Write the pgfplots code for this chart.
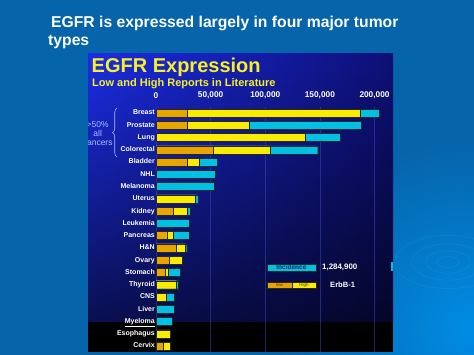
\documentclass[border=0pt]{standalone}
\usepackage{fontspec}
\setmainfont{Liberation Sans}
\usepackage{pgfplots}
\pgfplotsset{compat=1.18}
\usepackage{pgfplotstable}
\usetikzlibrary{decorations.pathreplacing,fadings}

\definecolor{slidebg}{RGB}{6,100,170}
\definecolor{slidelight}{RGB}{0,140,228}
\definecolor{panelTL}{RGB}{28,45,230}
\definecolor{panelR}{RGB}{14,16,118}
\definecolor{ttlyellow}{RGB}{245,240,40}
\definecolor{orangebar}{RGB}{232,165,0}
\definecolor{yellowbar}{RGB}{250,236,0}
\definecolor{cyanbar}{RGB}{0,192,228}
\definecolor{barline}{RGB}{40,40,30}
\definecolor{bracecol}{RGB}{170,190,255}
\definecolor{gridcol}{RGB}{70,80,200}

\tikzfading[name=fadedown, top color=transparent!100, bottom color=transparent!35]

\pgfplotstableread{
row low high inc
0 28.7 186.8 204
1 28.7 85.5 188
2 nan 136.5 168.8
3 52.8 104.7 148
4 28.7 39.7 55.9
5 nan nan 54
6 nan nan 53.4
7 nan 36.3 38.5
8 15.8 29 31.1
9 nan nan 30.5
10 9.8 15.8 30.2
11 18.3 26.5 28.1
12 11.9 23.8 nan
13 8.2 11.3 22
14 nan 18.3 20.4
15 nan 9.2 16.8
16 nan nan 16.5
17 nan nan 14.9
18 nan 12.8 nan
19 6.7 12.8 nan
}\datatable

\begin{document}
\begin{tikzpicture}[x=1pt,y=1pt]
\useasboundingbox (0,0) rectangle (474,-355);
% slide background
\begin{scope}
\clip (0,0) rectangle (474,-355);
\fill[slidebg] (0,0) rectangle (474,-355);
\shade[inner color=slidelight, outer color=slidebg] (470,-330) circle (190);
\foreach \r in {8,16,26,38}{
  \draw[white, opacity=0.05, line width=0.8pt] (448,-262) ellipse ({\r*1.4} and {\r*0.7});
}
\end{scope}
% slide title
\node[anchor=base west, inner sep=0pt, text=white, font=\fontsize{15.7}{18}\selectfont\bfseries] at (51,-27.9) {EGFR is expressed largely in four major tumor};
\node[anchor=base west, inner sep=0pt, text=white, font=\fontsize{15.7}{18}\selectfont\bfseries] at (48,-46) {types};
% panel
\shade[left color=panelTL, right color=panelR] (88,-54) rectangle (393,-322);
\fill[black, path fading=fadedown] (88,-54) rectangle (393,-322);
\fill[black] (88,-322) rectangle (393,-352);
% panel titles
\node[anchor=base west, inner sep=0pt, text=ttlyellow, font=\fontsize{20}{24}\selectfont\bfseries] at (91.5,-72.7) {EGFR Expression};
\node[anchor=base west, inner sep=0pt, text=ttlyellow, font=\fontsize{11}{13}\selectfont\bfseries] at (92,-86.7) {Low and High Reports in Literature};
% brace and group note
\begin{scope}
\clip (88,-54) rectangle (393,-352);
\draw[bracecol, line width=0.6pt, decorate, decoration={brace, amplitude=4.5pt}] (117,-157) -- (117,-108);
\node[text=bracecol, align=center, inner sep=0pt, font=\fontsize{8.5}{9}\selectfont] at (97.7,-134) {>50\%\\all\\cancers};
\end{scope}
\coordinate (axc) at (273.45,-229.55);
\begin{axis}[
  at={(axc)}, anchor=center,
  scale only axis, width=234.9pt, height=245.3pt,
  xmin=0, xmax=215, ymin=-0.5, ymax=19.5, y dir=reverse,
  xbar, bar width=8pt, bar shift=0pt,
  axis line style={draw=none}, major tick length=0pt,
  xtick={0,50,100,150,200},
  xticklabels={0,{50,000},{100,000},{150,000},{200,000}},
  xticklabel pos=top,
  xticklabel style={font=\fontsize{8.3}{9}\selectfont\bfseries, text=white, yshift=5pt},
  ytick={0,...,19},
  yticklabels={Breast,Prostate,Lung,Colorectal,Bladder,NHL,Melanoma,Uterus,Kidney,Leukemia,Pancreas,H\&N,Ovary,Stomach,Thyroid,CNS,Liver,\underline{Myeloma},Esophagus,Cervix},
  yticklabel style={font=\fontsize{7}{8}\selectfont\bfseries, text=white, inner sep=1pt, text height=5.2pt, text depth=1.4pt},
  xmajorgrids, grid style={draw=gridcol, opacity=0.45, line width=0.5pt},
  /pgf/number format/assume math mode=true,
  clip=false,
]
\addplot[fill=cyanbar, draw=barline, line width=0.4pt] table[x=inc, y=row] \datatable;
\addplot[fill=yellowbar, draw=barline, line width=0.4pt] table[x=high, y=row] \datatable;
\addplot[fill=orangebar, draw=barline, line width=0.4pt] table[x=low, y=row] \datatable;
\end{axis}
% legend
\node[fill=cyanbar, draw=barline, line width=0.4pt, minimum width=49pt, minimum height=6.7pt, inner sep=0pt, anchor=north west, text={rgb,255:red,0;green,45;blue,100}, font=\fontsize{6.5}{7}\selectfont\bfseries] at (266.7,-264) {Incidence};
\node[anchor=west, inner sep=0pt, text=white, font=\fontsize{7.9}{9}\selectfont\bfseries] at (322,-267.3) {1,284,900};
\node[fill=orangebar, draw=barline, line width=0.4pt, minimum width=25pt, minimum height=6pt, inner sep=0pt, anchor=north west, text={rgb,255:red,80;green,50;blue,0}, font=\fontsize{4.5}{5}\selectfont] at (266.7,-281.7) {low};
\node[fill=yellowbar, draw=barline, line width=0.4pt, minimum width=24.3pt, minimum height=6pt, inner sep=0pt, anchor=north west, text={rgb,255:red,80;green,50;blue,0}, font=\fontsize{4.5}{5}\selectfont] at (291.7,-281.7) {High};
\node[anchor=west, inner sep=0pt, text=white, font=\fontsize{7.6}{9}\selectfont\bfseries] at (330,-284.5) {ErbB-1};
\fill[cyanbar] (390.5,-262.5) rectangle (393,-271);
\end{tikzpicture}
\end{document}
